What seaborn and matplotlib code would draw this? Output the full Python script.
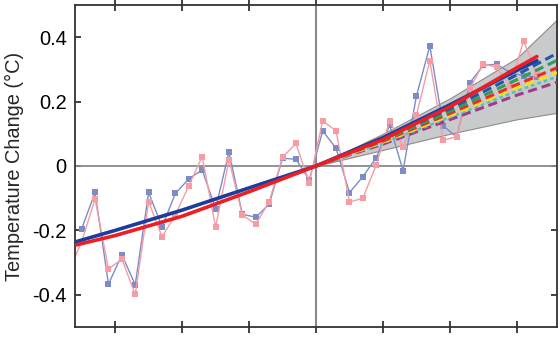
import matplotlib
matplotlib.use("Agg")
import matplotlib.pyplot as plt
import seaborn as sns
import pandas as pd

# ---------------- data ----------------
years_blue = list(range(1982, 2017))
obs_blue = [-0.195, -0.082, -0.367, -0.276, -0.369, -0.082, -0.189, -0.085, -0.040, -0.012,
            -0.133, 0.044, -0.150, -0.159, -0.119, 0.024, 0.021, -0.043, 0.109, 0.055,
            -0.083, -0.033, 0.026, 0.127, -0.014, 0.217, 0.373, 0.125, 0.090, 0.259,
            0.313, 0.316, 0.290, 0.280, 0.277]
years_red = list(range(1981, 2017))
obs_red = [-0.330, -0.235, -0.102, -0.320, -0.289, -0.399, -0.111, -0.220, -0.152, -0.061, 0.029,
           -0.190, 0.019, -0.152, -0.181, -0.111, 0.027, 0.070, -0.052, 0.140, 0.109,
           -0.112, -0.100, 0.003, 0.140, 0.060, 0.158, 0.327, 0.080, 0.091, 0.241,
           0.318, 0.306, 0.248, 0.388, 0.287]

trend_years = [1982, 1985, 1990, 1995, 2000, 2005, 2010, 2015, 2016.5]
trend_blue = [-0.236, -0.200, -0.137, -0.068, 0.0, 0.088, 0.190, 0.297, 0.327]
trend_red = [-0.246, -0.216, -0.156, -0.080, 0.0, 0.082, 0.184, 0.305, 0.340]

proj_years = [2000, 2005, 2010, 2015, 2018]
band_upper = [0.0, 0.100, 0.210, 0.335, 0.455]
band_lower = [0.0, 0.050, 0.100, 0.145, 0.165]
proj_blue = [0.0, 0.085, 0.178, 0.283, 0.350]
proj_green = [0.0, 0.080, 0.170, 0.268, 0.328]
proj_red = [0.0, 0.077, 0.163, 0.253, 0.305]
proj_yellow = [0.0, 0.074, 0.157, 0.243, 0.290]
proj_teal = [0.0, 0.071, 0.151, 0.233, 0.277]
proj_purple = [0.0, 0.068, 0.144, 0.220, 0.260]

ytick_vals = [-0.4, -0.2, 0, 0.2, 0.4]
ytick_labels = ["-0.4", "-0.2", "0", "0.2", "0.4"]
xtick_vals = [1985, 1990, 1995, 2000, 2005, 2010, 2015]

# ---------------- style ----------------
sns.set_style("ticks")
plt.rcParams["font.family"] = ["Liberation Sans", "DejaVu Sans"]

fig = plt.figure(figsize=(5.6, 3.38), dpi=100)
ax = fig.add_axes([75 / 560, 1 - 327 / 338, (557 - 75) / 560, (327 - 5) / 338])

# band
ax.fill_between(proj_years, band_lower, band_upper, color="#c9cacb",
                edgecolor="#8c8c8c", linewidth=0.8, zorder=1)

# reference lines
ax.axhline(0, color="#8a8a8a", linewidth=1.3, zorder=1.5)
ax.axvline(2000, color="#8a8a8a", linewidth=1.5, zorder=1.5)

# observations
df_b = pd.DataFrame({"year": [y + 0.5 for y in years_blue], "val": obs_blue})
df_r = pd.DataFrame({"year": [y + 0.5 for y in years_red], "val": obs_red})
sns.lineplot(data=df_b, x="year", y="val", ax=ax, color="#7d8cc6", linewidth=1.0,
             marker="s", markersize=4.2, markeredgewidth=0, sort=False, zorder=2)
sns.lineplot(data=df_r, x="year", y="val", ax=ax, color="#f59ca4", linewidth=1.0,
             marker="s", markersize=4.2, markeredgewidth=0, sort=False, zorder=2.1)

# projections
for vals, col, dash, lw in [
    (proj_purple, "#a23a8c", (3, 1.6), 2.2),
    (proj_teal, "#55c3b3", (1.5, 1.2), 1.8),
    (proj_yellow, "#f1e21c", (3, 1.6), 2.2),
    (proj_red, "#ec2a2d", (3, 1.6), 2.2),
    (proj_green, "#2e9e5a", (3, 1.6), 2.2),
    (proj_blue, "#2256a6", (3, 1.6), 2.2),
]:
    dfp = pd.DataFrame({"year": proj_years, "val": vals})
    sns.lineplot(data=dfp, x="year", y="val", ax=ax, color=col, linewidth=lw,
                 dashes=False, zorder=3).lines[-1].set_dashes(dash)

# trends
df_tb = pd.DataFrame({"year": trend_years, "val": trend_blue})
df_tr = pd.DataFrame({"year": trend_years, "val": trend_red})
sns.lineplot(data=df_tb, x="year", y="val", ax=ax, color="#1b3e9e", linewidth=2.6, zorder=4)
sns.lineplot(data=df_tr, x="year", y="val", ax=ax, color="#ee1d24", linewidth=2.6, zorder=4.1)

# axes
ax.set_xlim(1982, 2018)
ax.set_ylim(-0.5, 0.5)
ax.set_xticks(xtick_vals)
ax.set_yticks(ytick_vals)
ax.set_yticklabels(ytick_labels)
ax.tick_params(axis="x", which="both", direction="inout", length=8, width=1.2,
               top=True, bottom=True, labelbottom=False, colors="#222222")
ax.tick_params(axis="y", which="both", direction="in", length=4, width=1.2,
               left=True, right=True, labelsize=14.4, pad=6, labelcolor="black",
               color="#222222")
for s in ax.spines.values():
    s.set_color("#333333")
    s.set_linewidth(1.3)
ax.set_xlabel("")
ax.set_ylabel("Temperature Change (°C)", fontsize=14.4, labelpad=6)

fig.savefig("out.png", dpi=100)
